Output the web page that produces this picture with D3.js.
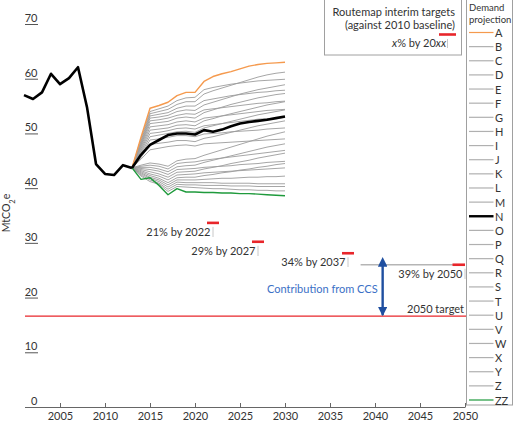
<!DOCTYPE html>
<html><head><meta charset="utf-8">
<script src="https://cdn.jsdelivr.net/npm/d3@7"></script>
<style>
html,body{margin:0;padding:0;background:#fff;}
text{font-family:Lato,"Open Sans",sans-serif;fill:#333;}
</style></head>
<body><svg id="c" width="520" height="424"></svg>
<script>
// ---------- data ----------
const histYears = [2001,2002,2003,2004,2005,2006,2007,2008,2009,2010,2011,2012,2013];
const histValues = [57.0,56.3,57.5,60.9,59.0,60.1,62.1,54.8,44.4,42.6,42.4,44.2,43.7];

const projYears = [2013,2014,2015,2016,2017,2018,2019,2020,2021,2022,2023,2024,2025,2026,2027,2028,2029,2030];
const projA  = [43.7,49.3,54.6,55.1,55.7,56.9,57.5,57.5,59.5,60.4,60.9,61.3,61.8,62.3,62.6,62.8,62.9,63.0];
const projB  = [43.7,49.0,54.0,54.5,55.0,56.0,56.5,56.6,58.0,58.4,58.7,59.0,59.2,59.4,59.6,59.7,59.8,59.9];
const projC  = [43.7,48.6,53.6,54.0,54.4,55.3,55.8,55.8,57.2,57.8,58.3,58.8,59.3,59.8,60.3,60.7,61.0,61.2];
const projD  = [43.7,48.3,53.2,53.5,53.8,54.6,55.0,55.0,56.0,56.3,56.6,56.9,57.1,57.3,57.5,57.6,57.8,57.9];
const projE  = [43.7,48.0,52.8,53.0,53.3,54.0,54.3,54.2,55.2,55.7,56.2,56.7,57.2,57.6,58.0,58.3,58.6,58.9];
const projF  = [43.7,47.8,52.3,52.5,52.8,53.3,53.6,53.5,54.3,54.5,54.7,54.9,55.1,55.3,55.5,55.6,55.8,55.9];
const projG  = [43.7,47.5,51.8,52.0,52.2,52.8,53.0,52.8,53.8,54.3,54.8,55.3,55.7,56.1,56.5,56.8,57.1,57.3];
const projH  = [43.7,47.2,51.2,51.4,51.6,52.1,52.3,52.1,52.8,53.0,53.2,53.4,53.6,53.8,54.0,54.2,54.3,54.4];
const projI  = [43.7,46.9,50.6,50.8,51.0,51.5,51.6,51.4,52.3,52.7,53.2,53.6,54.0,54.4,54.8,55.2,55.5,55.8];
const projJ  = [43.7,46.6,50.0,50.2,50.5,50.9,51.0,50.8,51.4,51.6,51.8,52.0,52.2,52.4,52.6,52.7,52.8,52.9];
const projK  = [43.7,46.3,49.4,49.7,50.0,50.3,50.4,50.2,51.0,51.4,51.8,52.2,52.6,53.0,53.4,53.7,54.0,54.3];
const projL  = [43.7,46.0,48.8,49.0,49.3,49.6,49.6,49.4,49.9,50.0,50.1,50.3,50.4,50.5,50.6,50.8,50.9,51.0];
const projM  = [43.7,45.6,48.0,48.2,48.4,48.7,48.7,48.5,49.1,49.4,49.8,50.2,50.6,51.0,51.4,51.7,52.0,52.3];
const projN  = [43.7,46.1,47.9,48.8,49.7,50.0,50.0,49.8,50.6,50.3,50.7,51.3,51.8,52.1,52.3,52.5,52.8,53.1];
const projO  = [43.7,45.3,47.0,47.3,47.6,47.8,47.9,47.7,48.1,48.2,48.3,48.4,48.5,48.6,48.7,48.8,48.9,49.0];
const projP  = [43.7,44.2,44.6,44.4,44.0,45.0,45.3,45.4,46.0,46.5,47.0,47.5,48.0,48.5,49.0,49.5,49.9,50.3];
const projQ  = [43.7,44.0,44.2,44.0,43.5,44.5,44.7,44.8,45.1,45.3,45.5,45.7,45.9,46.1,46.3,46.5,46.7,46.9];
const projR  = [43.7,43.8,43.8,43.5,43.0,43.9,44.1,44.2,44.7,45.1,45.5,45.9,46.3,46.7,47.1,47.5,47.8,48.1];
const projS  = [43.7,43.6,43.4,43.1,42.5,43.4,43.5,43.6,43.8,43.9,44.0,44.1,44.3,44.4,44.5,44.7,44.8,44.9];
const projT  = [43.7,43.4,43.0,42.6,42.0,42.9,43.0,43.1,43.5,43.8,44.1,44.5,44.8,45.1,45.5,45.8,46.1,46.4];
const projU  = [43.7,43.2,42.6,42.2,41.5,42.4,42.5,42.6,42.8,42.9,43.0,43.1,43.2,43.3,43.4,43.5,43.6,43.7];
const projV  = [43.7,43.0,42.3,41.8,41.0,41.9,42.0,42.0,42.3,42.5,42.8,43.0,43.3,43.5,43.8,44.0,44.3,44.5];
const projW  = [43.7,42.8,42.0,41.5,40.6,41.5,41.5,41.5,41.6,41.7,41.8,41.8,41.9,42.0,42.0,42.1,42.1,42.2];
const projX  = [43.7,42.6,41.8,41.2,40.2,41.1,41.0,41.0,41.0,41.0,40.9,40.9,40.9,40.9,40.8,40.8,40.8,40.8];
const projY  = [43.7,42.4,41.5,40.9,39.8,40.7,40.6,40.6,40.5,40.5,40.5,40.4,40.4,40.4,40.3,40.3,40.3,40.3];
const projZ  = [43.7,42.2,41.2,40.7,39.4,40.3,40.2,40.1,40.0,39.9,39.9,39.8,39.7,39.7,39.6,39.6,39.5,39.5];
const projZZ = [43.7,41.6,41.9,40.5,38.8,39.9,39.3,39.3,39.2,39.2,39.1,39.1,39.0,39.0,38.9,38.8,38.7,38.6];

const seriesNames = ["A","B","C","D","E","F","G","H","I","J","K","L","M","N","O","P","Q","R","S","T","U","V","W","X","Y","Z","ZZ"];
const seriesValues = [projA,projB,projC,projD,projE,projF,projG,projH,projI,projJ,projK,projL,projM,projN,projO,projP,projQ,projR,projS,projT,projU,projV,projW,projX,projY,projZ,projZZ];

const targetYears = [2022,2027,2037,2050];
const targetValues = [33.65,30.2,28.1,26.0];
const targetLabels = ["21% by 2022","29% by 2027","34% by 2037","39% by 2050"];
const target2050 = 16.6;
const ccsYear = 2040.85;

const xTicks = [2005,2010,2015,2020,2025,2030,2035,2040,2045,2050];
const yTicks = [0,10,20,30,40,50,60,70];

// ---------- chart ----------
const svg = d3.select("#c");
const x = d3.scaleLinear().domain([2001,2050]).range([24,465]);
const y = d3.scaleLinear().domain([0,70]).range([407,24]);

const colorOf = n => n==="A" ? "#f59a4e" : n==="ZZ" ? "#1f9a3c" : n==="N" ? "#000" : "#9c9c9c";
const widthOf = n => n==="N" ? 2.6 : (n==="A"||n==="ZZ") ? 1.4 : 0.9;

// y axis (labels above short underline ticks)
const yAx = svg.append("g").attr("transform","translate(25,0)")
  .call(d3.axisRight(y).tickValues(yTicks).tickSize(13).tickSizeOuter(0));
yAx.select(".domain").remove();
yAx.selectAll(".tick line").attr("stroke","#555").attr("stroke-width",1)
  .attr("opacity",d=>d===0?0:1);
yAx.selectAll(".tick text").attr("x",12.5).attr("dy",-2.5).attr("text-anchor","end")
  .style("font-family","Lato,'Open Sans',sans-serif").style("font-size","11px").attr("fill","#333");

// y axis title
svg.append("text").attr("transform","translate(10,213) rotate(-90)")
  .attr("text-anchor","middle").style("font-size","10.5px")
  .html('MtCO<tspan baseline-shift="sub" font-size="7.5px">2</tspan>e');

// x axis
const xAx = svg.append("g").attr("transform","translate(0,407)")
  .call(d3.axisBottom(x).tickValues(xTicks).tickSize(-4).tickSizeOuter(0).tickPadding(5).tickFormat(d3.format("d")));
xAx.select(".domain").attr("d","M25,0.5H465.5").attr("stroke","#666");
xAx.selectAll(".tick line").attr("stroke","#666");
xAx.selectAll(".tick text").style("font-family","Lato,'Open Sans',sans-serif").style("font-size","11px").attr("fill","#333");

// 2050 target line
svg.append("line").attr("x1",25).attr("x2",x(2050)+1).attr("y1",y(target2050)).attr("y2",y(target2050))
  .attr("stroke","#e8262b").attr("stroke-width",1.4);
svg.append("text").attr("x",x(2050)-1).attr("y",y(target2050)-3.5).attr("text-anchor","end")
  .style("font-size","11px").text("2050 target");

// 39% baseline grey line
svg.append("line").attr("x1",x(2038.4)).attr("x2",x(2050)).attr("y1",y(targetValues[3])).attr("y2",y(targetValues[3]))
  .attr("stroke","#b5b5b5").attr("stroke-width",1.4);

// CCS arrow
const defs = svg.append("defs");
["s","e"].forEach(k=>{
  defs.append("marker").attr("id","ar"+k).attr("viewBox","0 0 10 10").attr("refX",k==="e"?9:1).attr("refY",5)
    .attr("markerWidth",4).attr("markerHeight",4).attr("orient","auto-start-reverse")
    .append("path").attr("d","M0,0L10,5L0,10z").attr("fill","#1f4fa0");
});
svg.append("line").attr("x1",x(ccsYear)).attr("x2",x(ccsYear))
  .attr("y1",y(targetValues[3])+1).attr("y2",y(target2050)-1)
  .attr("stroke","#1f4fa0").attr("stroke-width",2.4)
  .attr("marker-start","url(#ars)").attr("marker-end","url(#are)");
svg.append("text").attr("x",x(ccsYear)-5).attr("y",293).attr("text-anchor","end")
  .style("font-size","11px").attr("fill","#3b70c6").style("fill","#3b70c6").text("Contribution from CCS");

// target markers
const labelBaseline = [236,255,266,278];
targetYears.forEach((yr,i)=>{
  const xc = x(yr), yc = y(targetValues[i]);
  const x1 = x(yr-0.67), x2 = Math.min(x(yr+0.67), x(2050));
  const xa = i===3 ? x2-12.5 : x1;
  svg.append("line").attr("x1",xa).attr("x2",x2).attr("y1",yc).attr("y2",yc)
    .attr("stroke","#e8262b").attr("stroke-width",2.6);
  svg.append("line").attr("x1",xc).attr("x2",xc).attr("y1",yc+4).attr("y2",labelBaseline[i]+1)
    .attr("stroke","#c8c8c8").attr("stroke-width",1);
  svg.append("text").attr("x",xc-2.5).attr("y",labelBaseline[i]).attr("text-anchor","end")
    .style("font-size","11px").text(targetLabels[i]);
});

// lines
const line = d3.line().x((d,i)=>x(projYears[i])).y(d=>y(d));
const order = seriesNames.map((n,i)=>i).filter(i=>!["A","N","ZZ"].includes(seriesNames[i]));
order.push(seriesNames.indexOf("A"), seriesNames.indexOf("ZZ"), seriesNames.indexOf("N"));
svg.append("g").selectAll("path").data(order).join("path")
  .attr("d",i=>line(seriesValues[i])).attr("fill","none")
  .attr("stroke",i=>colorOf(seriesNames[i])).attr("stroke-width",i=>widthOf(seriesNames[i]))
  .attr("stroke-linejoin","round");

svg.append("path").attr("d",d3.line().x((d,i)=>x(histYears[i])).y(d=>y(d))(histValues))
  .attr("fill","none").attr("stroke","#000").attr("stroke-width",2.6).attr("stroke-linejoin","round");

// annotation box
svg.append("rect").attr("x",324.5).attr("y",-1).attr("width",137).attr("height",56)
  .attr("fill","#fff").attr("stroke","#a0a0a0");
svg.append("text").attr("x",455).attr("y",16).attr("text-anchor","end").style("font-size","11px").text("Routemap interim targets");
svg.append("text").attr("x",455).attr("y",29).attr("text-anchor","end").style("font-size","11px").text("(against 2010 baseline)");
svg.append("text").attr("x",446).attr("y",47).attr("text-anchor","end").style("font-size","11px")
  .html('<tspan font-style="italic">x</tspan>% by 20<tspan font-style="italic">xx</tspan>');
svg.append("line").attr("x1",439).attr("x2",456).attr("y1",34.5).attr("y2",34.5).attr("stroke","#e8262b").attr("stroke-width",2.6);
svg.append("line").attr("x1",447.5).attr("x2",447.5).attr("y1",39).attr("y2",48).attr("stroke","#c8c8c8");

// legend
const lg = svg.append("g");
lg.append("rect").attr("x",466.5).attr("y",-1).attr("width",46).attr("height",406)
  .attr("fill","#fff").attr("stroke","#a0a0a0");
lg.append("text").attr("x",469).attr("y",11).style("font-size","9.5px").text("Demand");
lg.append("text").attr("x",469).attr("y",23).style("font-size","9.5px").text("projection");
const ly = d3.scaleLinear().domain([0,seriesNames.length-1]).range([32.5,400]);
const items = lg.selectAll("g.it").data(seriesNames).join("g").attr("class","it")
  .attr("transform",(d,i)=>`translate(0,${ly(i)})`);
items.append("line").attr("x1",469).attr("x2",493.5).attr("y1",0).attr("y2",0)
  .attr("stroke",d=>d==="N"||d==="A"||d==="ZZ"?colorOf(d):"#b0b0b0")
  .attr("stroke-width",d=>d==="N"?2.4:1.2);
items.append("text").attr("x",495).attr("y",4.5).style("font-size","11px").text(d=>d);
</script></body></html>
